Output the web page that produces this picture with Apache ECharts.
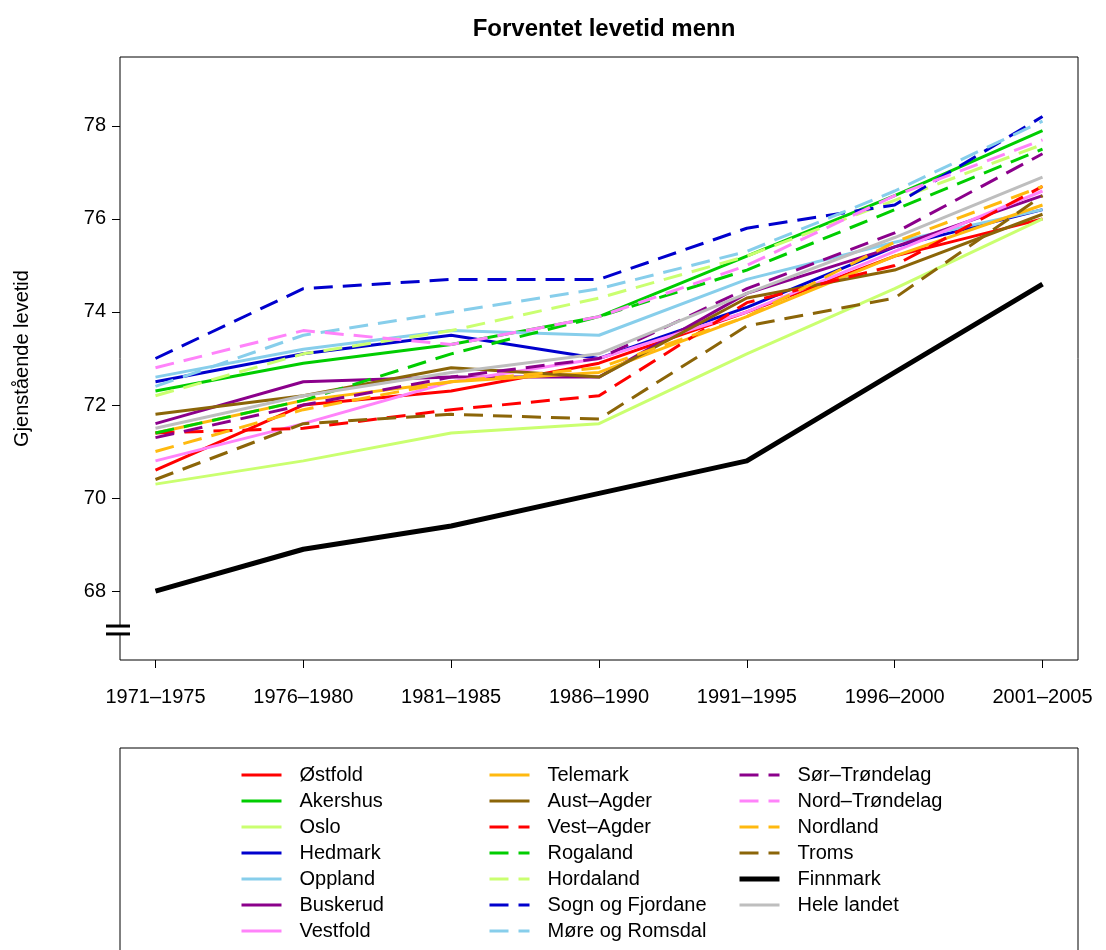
<!DOCTYPE html>
<html>
<head>
<meta charset="utf-8">
<script src="https://cdn.jsdelivr.net/npm/echarts@6/dist/echarts.min.js"></script>
<style>html,body{margin:0;padding:0;background:#fff}#c{width:1106px;height:950px}</style>
</head>
<body>
<div id="c"></div>
<script>
const categories = ['1971–1975','1976–1980','1981–1985','1986–1990','1991–1995','1996–2000','2001–2005'];
const yTicks = [68, 70, 72, 74, 76, 78];

const ostfold    = [70.6, 72.0, 72.3, 72.9, 74.0, 75.2, 76.0];
const akershus   = [72.3, 72.9, 73.3, 73.9, 75.2, 76.5, 77.9];
const oslo       = [70.3, 70.8, 71.4, 71.6, 73.1, 74.5, 76.0];
const hedmark    = [72.5, 73.1, 73.5, 73.0, 74.1, 75.4, 76.2];
const oppland    = [72.6, 73.2, 73.6, 73.5, 74.7, 75.5, 76.2];
const buskerud   = [71.6, 72.5, 72.6, 72.6, 74.4, 75.4, 76.5];
const vestfold   = [70.8, 71.6, 72.5, 73.0, 74.0, 75.3, 76.6];
const telemark   = [71.4, 72.1, 72.5, 72.7, 73.9, 75.2, 76.3];
const austAgder  = [71.8, 72.2, 72.8, 72.6, 74.3, 74.9, 76.1];
const vestAgder  = [71.4, 71.5, 71.9, 72.2, 74.2, 75.0, 76.7];
const rogaland   = [71.4, 72.1, 73.1, 73.9, 74.9, 76.2, 77.5];
const hordaland  = [72.2, 73.1, 73.6, 74.3, 75.2, 76.4, 77.6];
const sogn       = [73.0, 74.5, 74.7, 74.7, 75.8, 76.3, 78.2];
const more       = [72.4, 73.5, 74.0, 74.5, 75.3, 76.6, 78.1];
const sorTrond   = [71.3, 72.0, 72.6, 73.0, 74.5, 75.7, 77.4];
const nordTrond  = [72.8, 73.6, 73.3, 73.9, 75.0, 76.5, 77.7];
const nordland   = [71.0, 71.9, 72.5, 72.8, 73.9, 75.5, 76.7];
const troms      = [70.4, 71.6, 71.8, 71.7, 73.7, 74.3, 76.5];
const finnmark   = [68.0, 68.9, 69.4, 70.1, 70.8, 72.7, 74.6];
const heleLandet = [71.5, 72.2, 72.7, 73.1, 74.4, 75.6, 76.9];

const defs = [
  ['Østfold', ostfold, '#FF0000', 'solid'],
  ['Akershus', akershus, '#00CD00', 'solid'],
  ['Oslo', oslo, '#CAFF70', 'solid'],
  ['Hedmark', hedmark, '#0000CD', 'solid'],
  ['Oppland', oppland, '#87CEEB', 'solid'],
  ['Buskerud', buskerud, '#8B008B', 'solid'],
  ['Vestfold', vestfold, '#FF83FA', 'solid'],
  ['Telemark', telemark, '#FFB90F', 'solid'],
  ['Aust–Agder', austAgder, '#8B6508', 'solid'],
  ['Vest–Agder', vestAgder, '#FF0000', 'dashed'],
  ['Rogaland', rogaland, '#00CD00', 'dashed'],
  ['Hordaland', hordaland, '#CAFF70', 'dashed'],
  ['Sogn og Fjordane', sogn, '#0000CD', 'dashed'],
  ['Møre og Romsdal', more, '#87CEEB', 'dashed'],
  ['Sør–Trøndelag', sorTrond, '#8B008B', 'dashed'],
  ['Nord–Trøndelag', nordTrond, '#FF83FA', 'dashed'],
  ['Nordland', nordland, '#FFB90F', 'dashed'],
  ['Troms', troms, '#8B6508', 'dashed'],
  ['Finnmark', finnmark, '#000000', 'thick'],
  ['Hele landet', heleLandet, '#BEBEBE', 'solid']
];

const FONT = 'Liberation Sans, Arial, Helvetica, sans-serif';
const lw = d => (d[3] === 'thick' ? 5 : 3);
const ltype = d => (d[3] === 'dashed' ? [19, 10] : 'solid');

const series = defs.map(d => ({
  name: d[0],
  type: 'line',
  data: d[1].map((v, i) => [i, v]),
  symbol: 'none',
  showSymbol: false,
  silent: true,
  animation: false,
  color: d[2],
  lineStyle: { color: d[2], width: lw(d), type: ltype(d), cap: 'butt', join: 'round' }
}));

function legendCol(left, subset) {
  return {
    orient: 'vertical',
    left: left,
    top: 765,
    height: 260,
    padding: 0,
    itemWidth: 40,
    itemHeight: 20,
    itemGap: 6,
    selectedMode: false,
    itemStyle: { color: 'rgba(0,0,0,0)', borderWidth: 0, opacity: 0 },
    lineStyle: { width: 'inherit', type: 'inherit', color: 'inherit', cap: 'butt' },
    textStyle: { fontFamily: FONT, fontSize: 20, color: '#000', lineHeight: 20, padding: [0, 0, 0, 13] },
    data: subset.map(d => ({ name: d[0], lineStyle: { width: lw(d), type: ltype(d), color: d[2], cap: 'butt' } }))
  };
}

const chart = echarts.init(document.getElementById('c'), null, { renderer: 'canvas' });
chart.setOption({
  animation: false,
  backgroundColor: '#fff',
  title: {
    text: 'Forventet levetid menn',
    left: 599, top: 12, textAlign: 'center',
    textStyle: { fontFamily: FONT, fontSize: 24, fontWeight: 'bold', color: '#000' }
  },
  grid: { left: 120, right: 28, top: 57, bottom: 290, show: true, borderColor: '#000', borderWidth: 1, backgroundColor: 'transparent' },
  xAxis: {
    type: 'value', min: -0.24, max: 6.24,
    axisLine: { show: false, onZero: false },
    splitLine: { show: false },
    axisTick: { show: true, length: 8, inside: false, lineStyle: { color: '#000', width: 1 }, customValues: categories.map((c, i) => i) },
    axisLabel: {
      customValues: categories.map((c, i) => i),
      formatter: v => categories[Math.round(v)],
      fontFamily: FONT, fontSize: 20, color: '#000', margin: 27
    }
  },
  yAxis: {
    type: 'value', min: 66.52, max: 79.48,
    name: 'Gjenstående levetid', nameLocation: 'middle', nameGap: 88, nameRotate: 90,
    nameTextStyle: { fontFamily: FONT, fontSize: 20, color: '#000' },
    axisLine: { show: false, onZero: false },
    splitLine: { show: false },
    axisTick: { show: true, length: 8, lineStyle: { color: '#000', width: 1 }, customValues: yTicks },
    axisLabel: { customValues: yTicks, fontFamily: FONT, fontSize: 20, color: '#000', margin: 14 }
  },
  legend: [
    legendCol(240, defs.slice(0, 7)),
    legendCol(488, defs.slice(7, 14)),
    legendCol(737, defs.slice(14, 20))
  ],
  series: series
});

const yA = chart.convertToPixel({ yAxisIndex: 0 }, 67.25);
const yB = chart.convertToPixel({ yAxisIndex: 0 }, 67.08);
chart.setOption({
  graphic: [
    { type: 'rect', shape: { x: 120, y: 748, width: 958, height: 260 }, style: { fill: 'none', stroke: '#000', lineWidth: 1 }, silent: true, z: -1 },
    { type: 'rect', shape: { x: 106, y: yA, width: 24, height: yB - yA }, style: { fill: '#fff' }, silent: true, z: 10 },
    { type: 'line', shape: { x1: 106, y1: yA, x2: 130, y2: yA }, style: { stroke: '#000', lineWidth: 3 }, silent: true, z: 11 },
    { type: 'line', shape: { x1: 106, y1: yB, x2: 130, y2: yB }, style: { stroke: '#000', lineWidth: 3 }, silent: true, z: 11 }
  ]
});
</script>
</body>
</html>
